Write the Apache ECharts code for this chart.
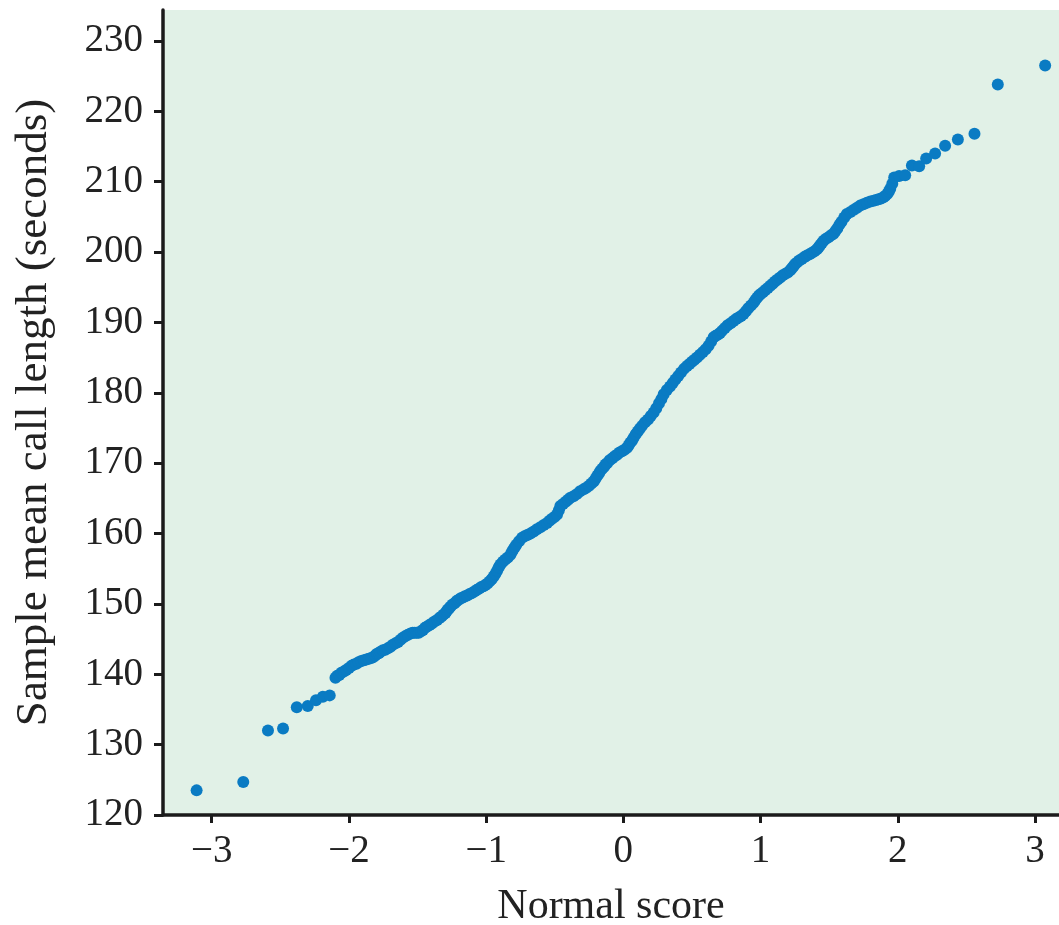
<!DOCTYPE html>
<html>
<head>
<meta charset="utf-8">
<script src="https://cdn.jsdelivr.net/npm/echarts@6/dist/echarts.min.js"></script>
<style>
html,body{margin:0;padding:0;background:#fff;}
#chart{width:1059px;height:925px;}
</style>
</head>
<body>
<div id="chart"></div>
<script>
// Normal scores (x)
const normalScores = [
  -3.11, -2.77, -2.59, -2.48, -2.38, -2.30, -2.24, -2.19, -2.14,
  -2.098, -2.085, -2.07, -2.055, -2.037, -2.02, -2.00, -1.98, -1.964, -1.945,
  -1.93, -1.91, -1.891, -1.873, -1.855, -1.837, -1.819, -1.807, -1.795, -1.782,
  -1.770, -1.752, -1.735, -1.716, -1.697, -1.68, -1.66, -1.642, -1.624, -1.607,
  -1.59, -1.57, -1.551, -1.535, -1.52, -1.505, -1.491, -1.475, -1.46, -1.445,
  -1.430, -1.412, -1.395, -1.376, -1.357, -1.34, -1.325, -1.31, -1.296, -1.287,
  -1.278, -1.269, -1.260, -1.245, -1.23, -1.215, -1.200, -1.185, -1.17, -1.154,
  -1.138, -1.12, -1.10, -1.083, -1.066, -1.05, -1.035, -1.02, -1.005, -0.99,
  -0.975, -0.96, -0.945, -0.932, -0.92, -0.908, -0.896, -0.878, -0.86, -0.842,
  -0.823, -0.812, -0.80, -0.79, -0.78, -0.76, -0.738, -0.72, -0.70, -0.677,
  -0.653, -0.63, -0.605, -0.58, -0.556, -0.538, -0.52, -0.50, -0.483, -0.47,
  -0.459, -0.44, -0.42, -0.403, -0.386, -0.363, -0.34, -0.315, -0.289, -0.27,
  -0.25, -0.233, -0.216, -0.203, -0.19, -0.179, -0.168, -0.154, -0.14, -0.13,
  -0.119, -0.10, -0.08, -0.063, -0.046, -0.028, -0.01, 0.008, 0.027, 0.038,
  0.05, 0.063, 0.075, 0.09, 0.105, 0.12, 0.136, 0.158, 0.18, 0.20,
  0.221, 0.24, 0.26, 0.277, 0.294, 0.317, 0.34, 0.36, 0.379, 0.40,
  0.42, 0.442, 0.464, 0.482, 0.50, 0.518, 0.537, 0.558, 0.58, 0.60,
  0.621, 0.64, 0.658, 0.674, 0.69, 0.705, 0.719, 0.74, 0.76, 0.782,
  0.803, 0.822, 0.84, 0.858, 0.876, 0.893, 0.91, 0.93, 0.949, 0.962,
  0.975, 0.987, 0.998, 1.017, 1.035, 1.053, 1.071, 1.088, 1.105, 1.124,
  1.143, 1.162, 1.18, 1.198, 1.216, 1.228, 1.24, 1.252, 1.265, 1.282,
  1.30, 1.32, 1.338, 1.357, 1.375, 1.393, 1.411, 1.423, 1.435, 1.447,
  1.459, 1.477, 1.495, 1.514, 1.532, 1.546, 1.56, 1.575, 1.59, 1.61,
  1.629, 1.655, 1.68, 1.703, 1.726, 1.75, 1.775, 1.80, 1.823, 1.842,
  1.86, 1.878, 1.896, 1.91, 1.925, 1.935, 1.945, 1.96, 1.974, 2.01,
  2.054, 2.103, 2.156, 2.207, 2.272, 2.345, 2.438, 2.559, 2.729, 3.074
];
// Sample mean call lengths (seconds)
const callLengths = [
  123.5, 124.7, 132.0, 132.3, 135.3, 135.5, 136.3, 136.8, 137.0,
  139.5, 139.8, 139.9, 140.2, 140.4, 140.6, 140.9, 141.2, 141.4, 141.5,
  141.7, 141.9, 142.0, 142.1, 142.2, 142.3, 142.5, 142.7, 142.9, 143.0,
  143.2, 143.4, 143.5, 143.7, 143.9, 144.2, 144.4, 144.6, 144.9, 145.2,
  145.4, 145.6, 145.8, 145.9, 145.9, 145.9, 145.9, 146.1, 146.3, 146.6,
  146.8, 147.0, 147.2, 147.5, 147.7, 148.0, 148.2, 148.5, 148.7, 149.0,
  149.2, 149.4, 149.6, 149.9, 150.1, 150.4, 150.6, 150.8, 150.9, 151.1,
  151.2, 151.4, 151.6, 151.8, 152.0, 152.2, 152.4, 152.5, 152.7, 152.9,
  153.2, 153.5, 153.9, 154.3, 154.7, 155.2, 155.6, 156.0, 156.3, 156.6,
  157.0, 157.4, 157.8, 158.1, 158.4, 158.9, 159.4, 159.6, 159.8, 160.0,
  160.3, 160.6, 160.9, 161.2, 161.5, 161.8, 162.1, 162.4, 162.7, 163.3,
  163.9, 164.2, 164.5, 164.8, 165.1, 165.3, 165.6, 166.0, 166.3, 166.5,
  166.8, 167.1, 167.4, 167.8, 168.2, 168.5, 168.9, 169.2, 169.5, 169.8,
  170.0, 170.4, 170.7, 171.0, 171.2, 171.5, 171.7, 171.9, 172.2, 172.5,
  172.9, 173.2, 173.6, 174.1, 174.5, 174.9, 175.3, 175.8, 176.2, 176.7,
  177.2, 177.8, 178.5, 179.1, 179.8, 180.4, 180.9, 181.4, 181.9, 182.4,
  182.9, 183.4, 183.8, 184.1, 184.4, 184.7, 185.0, 185.4, 185.8, 186.2,
  186.7, 187.3, 187.9, 188.1, 188.3, 188.5, 188.8, 189.2, 189.6, 189.9,
  190.2, 190.5, 190.7, 190.9, 191.2, 191.6, 192.0, 192.4, 192.8, 193.2,
  193.5, 193.8, 194.0, 194.3, 194.6, 194.9, 195.2, 195.5, 195.8, 196.1,
  196.4, 196.7, 196.9, 197.1, 197.4, 197.7, 198.0, 198.3, 198.5, 198.8,
  199.0, 199.3, 199.5, 199.7, 199.9, 200.1, 200.4, 200.7, 201.0, 201.3,
  201.6, 201.9, 202.1, 202.4, 202.6, 203.0, 203.4, 203.9, 204.3, 204.9,
  205.4, 205.7, 206.0, 206.3, 206.6, 206.8, 207.0, 207.2, 207.3, 207.4,
  207.5, 207.6, 207.8, 208.0, 208.3, 208.6, 209.0, 209.7, 210.6, 210.8,
  210.9, 212.3, 212.2, 213.3, 214.0, 215.1, 216.0, 216.8, 223.8, 226.5
];
const xTicks = [-3, -2, -1, 0, 1, 2, 3];
const yTicks = [120, 130, 140, 150, 160, 170, 180, 190, 200, 210, 220, 230];

const points = normalScores.map((x, i) => [x, callLengths[i]]);
const FONT = '"Liberation Serif", "DejaVu Serif", serif';
const AX = '#1b1b1b';

const chart = echarts.init(document.getElementById('chart'));
chart.setOption({
  animation: false,
  backgroundColor: '#ffffff',
  grid: {
    left: 163, right: 0, top: 10, bottom: 110,
    outerBoundsMode: 'none',
    containLabel: false,
    show: true, backgroundColor: '#e1f1e7', borderWidth: 0
  },
  xAxis: {
    type: 'value',
    min: -3.355, max: 3.175,
    name: 'Normal score',
    nameLocation: 'middle',
    nameGap: 71,
    nameTextStyle: { fontFamily: FONT, fontSize: 42, color: '#222' },
    axisLine: { onZero: false, lineStyle: { color: AX, width: 3.5 } },
    axisTick: { show: true, customValues: xTicks, length: 8, lineStyle: { color: AX, width: 3 } },
    axisLabel: {
      customValues: xTicks, margin: 17,
      fontFamily: FONT, fontSize: 39, color: '#222',
      formatter: v => (v < 0 ? '\u2212' + Math.abs(v) : String(v))
    },
    splitLine: { show: false }
  },
  yAxis: {
    type: 'value',
    min: 120, max: 234.4,
    name: 'Sample mean call length (seconds)',
    nameLocation: 'middle',
    nameRotate: 90,
    nameGap: 106,
    nameTextStyle: { fontFamily: FONT, fontSize: 45, color: '#222' },
    axisLine: { onZero: false, lineStyle: { color: AX, width: 3.5 } },
    axisTick: { show: true, customValues: yTicks, length: 9, lineStyle: { color: AX, width: 3 } },
    axisLabel: {
      customValues: yTicks, margin: 20,
      fontFamily: FONT, fontSize: 39, color: '#222'
    },
    splitLine: { show: false }
  },
  series: [{
    type: 'scatter',
    data: points,
    symbol: 'circle',
    symbolSize: 12,
    itemStyle: { color: '#0a7bc3', opacity: 1 }
  }]
});
</script>
</body>
</html>
